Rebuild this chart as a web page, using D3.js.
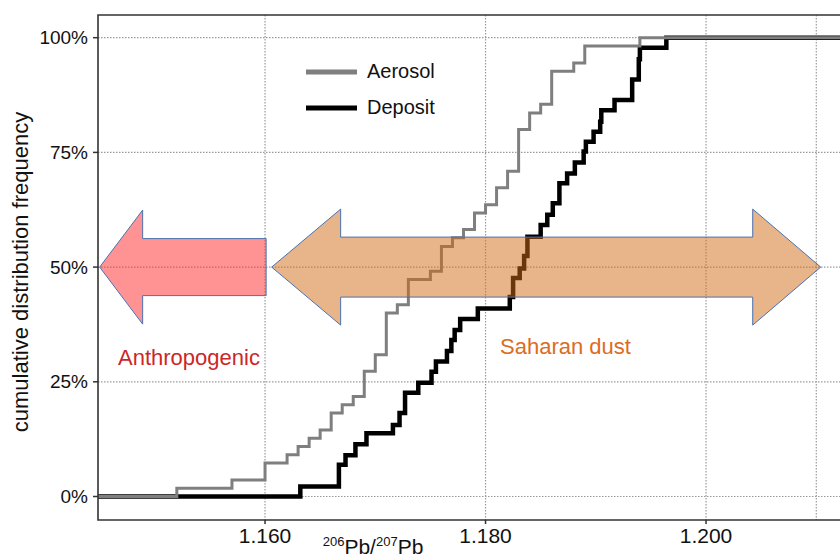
<!DOCTYPE html>
<html>
<head>
<meta charset="utf-8">
<script src="https://cdn.jsdelivr.net/npm/d3@7"></script>
<style>
  body { margin: 0; background: #fff; }
  svg { display: block; font-family: "Liberation Sans", Arial, sans-serif; }
</style>
</head>
<body>
<script>
// 206Pb/207Pb ratios where each cumulative curve steps up, and the % reached
const aerosolRatio = [1.152, 1.157, 1.160, 1.162, 1.163, 1.164, 1.165, 1.166, 1.167, 1.168,
  1.169, 1.170, 1.171, 1.172, 1.173, 1.175, 1.176, 1.177, 1.178, 1.179,
  1.180, 1.181, 1.182, 1.183, 1.184, 1.185, 1.186, 1.188, 1.189, 1.194];
const aerosolCdf = [1.8, 3.6, 7.3, 9.1, 10.9, 12.7, 14.5, 18.2, 20.0, 21.8,
  27.3, 30.9, 40.0, 41.8, 47.3, 49.1, 54.5, 56.4, 58.2, 61.8,
  63.6, 67.3, 70.9, 80.0, 83.6, 85.5, 92.7, 94.5, 98.2, 100];

const depositRatio = [1.1632, 1.1667, 1.1673, 1.1682, 1.1692, 1.1716, 1.1722, 1.1727, 1.1739, 1.1751,
  1.1755, 1.1765, 1.1769, 1.1772, 1.1777, 1.1793, 1.1822, 1.1825, 1.1831, 1.1835,
  1.1838, 1.1850, 1.1856, 1.1861, 1.1867, 1.1874, 1.1881, 1.1889, 1.1891, 1.1898,
  1.1904, 1.1905, 1.1917, 1.1933, 1.1939, 1.1940, 1.1964];
const depositCdf = [2.2, 6.9, 9.0, 11.4, 13.8, 15.6, 18.2, 22.6, 24.8, 27.2,
  29.4, 31.7, 34.1, 36.3, 38.7, 41.0, 43.5, 47.6, 49.7, 52.4,
  56.6, 59.2, 61.4, 63.9, 68.3, 70.4, 72.8, 75.2, 77.3, 79.5,
  81.7, 84.2, 86.4, 90.9, 95.3, 97.8, 100];

const xTicks = [1.160, 1.180, 1.200];
const xGrid = [1.160, 1.180, 1.200, 1.210];
const yTicks = [0, 25, 50, 75, 100];

// source ranges shown as arrows (ratio extents)
const anthroRange = [1.1450, 1.1601];
const saharaRange = [1.1606, 1.2104];

const width = 840, height = 560;
const margin = {top: 15, right: 0, bottom: 41, left: 98};

const svg = d3.select("body").append("svg")
    .attr("width", width)
    .attr("height", height);

const x = d3.scaleLinear()
    .domain([1.14485, 1.21215])
    .range([margin.left, width - margin.right]);

const y = d3.scaleLinear()
    .domain([0, 100])
    .range([496.5, 37.7]);

const plotBottom = height - margin.bottom + 1;

// grid
svg.append("g")
  .selectAll("line")
  .data(yTicks)
  .join("line")
    .attr("x1", margin.left).attr("x2", width)
    .attr("y1", d => y(d)).attr("y2", d => y(d))
    .attr("stroke", "#9a9a9a")
    .attr("stroke-width", 1.2)
    .attr("stroke-dasharray", "1.5,1.5");

svg.append("g")
  .selectAll("line")
  .data(xGrid)
  .join("line")
    .attr("x1", d => x(d)).attr("x2", d => x(d))
    .attr("y1", margin.top).attr("y2", plotBottom)
    .attr("stroke", "#9a9a9a")
    .attr("stroke-width", 1.2)
    .attr("stroke-dasharray", "1.5,1.5");

// step curves
const line = d3.line()
    .x(d => x(d[0]))
    .y(d => y(d[1]))
    .curve(d3.curveStepAfter);

function steps(ratio, cdf) {
  const pts = [[x.domain()[0], 0]];
  ratio.forEach((r, i) => pts.push([r, cdf[i]]));
  pts.push([x.domain()[1], 100]);
  return pts;
}

svg.append("path")
    .datum(steps(depositRatio, depositCdf))
    .attr("fill", "none")
    .attr("stroke", "#000")
    .attr("stroke-width", 4.5)
    .attr("d", line);

svg.append("path")
    .datum(steps(aerosolRatio, aerosolCdf))
    .attr("fill", "none")
    .attr("stroke", "#7f7f7f")
    .attr("stroke-width", 3)
    .attr("d", line);

// arrows
function arrowPath(x0, x1, headL, headR, cy, shaftH, headH) {
  // x0 left end, x1 right end; headL/headR head lengths (0 = flat end)
  const p = [];
  if (headL) {
    p.push([x0, cy], [x0 + headL, cy - headH], [x0 + headL, cy - shaftH]);
  } else {
    p.push([x0, cy - shaftH]);
  }
  if (headR) {
    p.push([x1 - headR, cy - shaftH], [x1 - headR, cy - headH], [x1, cy],
           [x1 - headR, cy + headH], [x1 - headR, cy + shaftH]);
  } else {
    p.push([x1, cy - shaftH], [x1, cy + shaftH]);
  }
  if (headL) {
    p.push([x0 + headL, cy + shaftH], [x0 + headL, cy + headH]);
  } else {
    p.push([x0, cy + shaftH]);
  }
  return "M" + p.map(d => d.join(",")).join("L") + "Z";
}

const cy = y(50);

svg.append("path")
    .attr("d", arrowPath(x(anthroRange[0]), x(anthroRange[1]), 43, 0, cy, 28.5, 57))
    .attr("fill", "rgba(255,40,40,0.5)")
    .attr("stroke", "#4a72b0")
    .attr("stroke-width", 1);

svg.append("path")
    .attr("d", arrowPath(x(saharaRange[0]), x(saharaRange[1]), 69, 68, cy, 30, 58))
    .attr("fill", "rgba(209,105,22,0.5)")
    .attr("stroke", "#4a72b0")
    .attr("stroke-width", 1);

svg.append("text")
    .attr("x", 118).attr("y", 365)
    .attr("font-size", 22)
    .attr("fill", "#cc2727")
    .text("Anthropogenic");

svg.append("text")
    .attr("x", 500).attr("y", 354)
    .attr("font-size", 22)
    .attr("fill", "#dc6c22")
    .text("Saharan dust");

// frame
svg.append("path")
    .attr("d", `M${width},${margin.top}H${margin.left}V${plotBottom}H${width}`)
    .attr("fill", "none")
    .attr("stroke", "#333")
    .attr("stroke-width", 1.6);

// axes
svg.append("g")
  .selectAll("line")
  .data(yTicks)
  .join("line")
    .attr("x1", margin.left - 5).attr("x2", margin.left)
    .attr("y1", d => y(d)).attr("y2", d => y(d))
    .attr("stroke", "#333").attr("stroke-width", 1.5);

svg.append("g")
  .selectAll("text")
  .data(yTicks)
  .join("text")
    .attr("x", 88)
    .attr("y", d => y(d))
    .attr("dy", "0.35em")
    .attr("text-anchor", "end")
    .attr("font-size", 19)
    .attr("fill", "#111")
    .text(d => d + "%");

svg.append("g")
  .selectAll("line")
  .data(xTicks)
  .join("line")
    .attr("x1", d => x(d)).attr("x2", d => x(d))
    .attr("y1", plotBottom).attr("y2", plotBottom + 4)
    .attr("stroke", "#333").attr("stroke-width", 1.5);

const fmt = d3.format(".3f");
svg.append("g")
  .selectAll("text")
  .data(xTicks)
  .join("text")
    .attr("x", d => x(d))
    .attr("y", 543)
    .attr("text-anchor", "middle")
    .attr("font-size", 21)
    .attr("fill", "#111")
    .text(d => fmt(d));

const xt = svg.append("text")
    .attr("x", 373).attr("y", 554)
    .attr("text-anchor", "middle")
    .attr("font-size", 21)
    .attr("fill", "#111");
xt.append("tspan").attr("font-size", 13).attr("dy", -8).text("206");
xt.append("tspan").attr("dy", 8).text("Pb/");
xt.append("tspan").attr("font-size", 13).attr("dy", -8).text("207");
xt.append("tspan").attr("dy", 8).text("Pb");

svg.append("text")
    .attr("transform", "translate(28,272) rotate(-90)")
    .attr("text-anchor", "middle")
    .attr("font-size", 22)
    .attr("fill", "#111")
    .text("cumulative distribution frequency");

// legend
const legend = [["Aerosol", "#7f7f7f", 72], ["Deposit", "#000", 108]];
legend.forEach(([name, color, ly]) => {
  svg.append("line")
      .attr("x1", 306).attr("x2", 357)
      .attr("y1", ly).attr("y2", ly)
      .attr("stroke", color).attr("stroke-width", 5);
  svg.append("text")
      .attr("x", 367).attr("y", ly)
      .attr("dy", "0.3em")
      .attr("font-size", 20)
      .attr("fill", "#111")
      .text(name);
});
</script>
</body>
</html>
